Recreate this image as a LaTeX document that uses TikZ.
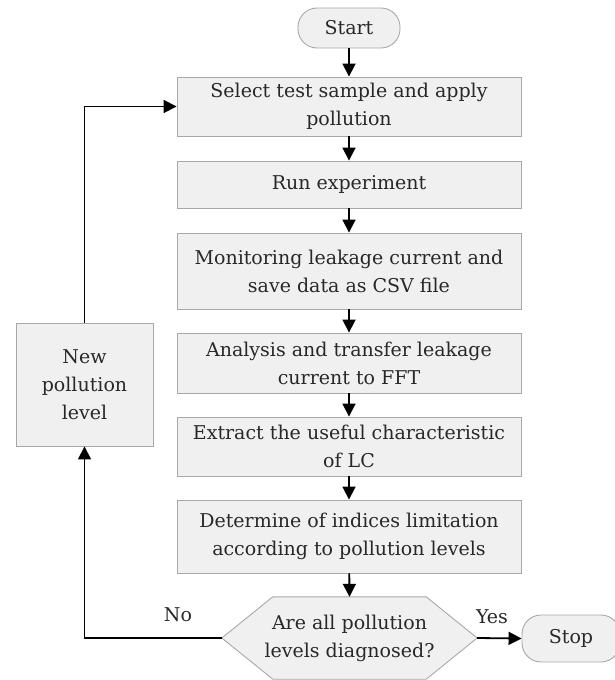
\documentclass[tikz,border=0pt]{standalone}
\usepackage{fontspec}
\setmainfont{DejaVu Serif}
\usetikzlibrary{arrows.meta}
\definecolor{boxfill}{HTML}{F0F0F0}
\definecolor{boxline}{HTML}{A8A8A8}
\definecolor{txt}{HTML}{282828}
\tikzset{
  box/.style={draw=boxline, fill=boxfill, line width=0.9pt, minimum width=344pt,
    align=center, inner sep=0pt, text=txt, font=\fontsize{19}{28}\selectfont},
  term/.style={draw=boxline, fill=boxfill, line width=0.9pt, rounded corners=19pt,
    inner sep=0pt, text=txt, font=\fontsize{19}{28}\selectfont},
  lbl/.style={text=txt, font=\fontsize{19}{28}\selectfont, inner sep=0pt},
  arr/.style={line width=1.8pt, -{Triangle[length=13pt,width=13pt]}},
}
\begin{document}
\begin{tikzpicture}[x=1pt,y=-1pt]
\useasboundingbox (0,0) rectangle (614,680);
\node[term, minimum width=102pt, minimum height=40pt] (start) at (349,28) {Start};
\node[box, minimum height=59pt] (b1) at (349,106.5) {Select test sample and apply\\pollution};
\node[box, minimum height=47pt] (b2) at (349,184.5) {Run experiment};
\node[box, minimum height=76pt] (b3) at (349,271) {Monitoring leakage current and\\save data as CSV file};
\node[box, minimum height=60pt] (b4) at (349,363) {Analysis and transfer leakage\\current to FFT};
\node[box, minimum height=59pt] (b5) at (349,446.5) {Extract the useful characteristic\\of LC};
\node[box, minimum height=73pt] (b6) at (349,536.5) {Determine of indices limitation\\according to pollution levels};
\node[lbl, align=center, minimum width=255pt, minimum height=82pt] (dec) at (349.5,638) {};
\draw[draw=boxline, fill=boxfill, line width=0.9pt]
  (dec.west) -- ([xshift=51pt]dec.north west) -- ([xshift=-51pt]dec.north east)
  -- (dec.east) -- ([xshift=-51pt]dec.south east) -- ([xshift=51pt]dec.south west) -- cycle;
\node[lbl, align=center] (dectext) at (dec.center) {Are all pollution\\levels diagnosed?};
\node[term, minimum width=98pt, minimum height=47pt] (stop) at (571,638.5) {Stop};
\node[box, minimum width=137pt, minimum height=123pt] (npl) at (84.5,384.5) {New\\pollution\\level};
\draw[arr] (start) -- (b1);
\draw[arr] (b1) -- (b2);
\draw[arr] (b2) -- (b3);
\draw[arr] (b3) -- (b4);
\draw[arr] (b4) -- (b5);
\draw[arr] (b5) -- (b6);
\draw[arr] (b6) -- (dec.north);
\draw[arr] (dec.east) -- (stop.west);
\draw[arr] (dec.west) -| (npl.south);
\draw[arr] (npl.north) |- (b1.west);
\node[lbl] (yes) at (492,617) {Yes};
\node[lbl] (no) at (178,615) {No};
\end{tikzpicture}
\end{document}
